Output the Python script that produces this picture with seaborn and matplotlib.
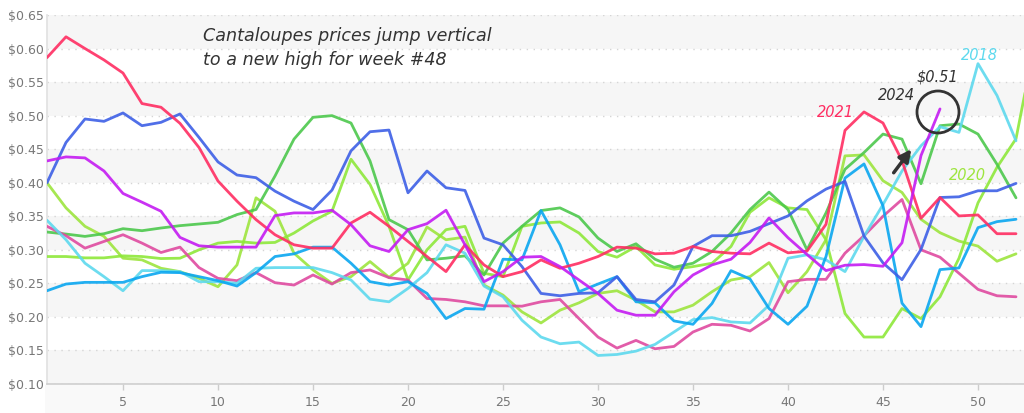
import numpy as np
import pandas as pd
import matplotlib
matplotlib.use("Agg")
import matplotlib.pyplot as plt
import seaborn as sns
from matplotlib.patches import Ellipse, Rectangle

weeks = list(range(1, 54))

y2016 = [0.40, 0.46, 0.495, 0.4915, 0.504, 0.485, 0.49, 0.5025, 0.4675, 0.431, 0.4115, 0.4075, 0.3875,
         0.3725, 0.36, 0.389, 0.4475, 0.476, 0.4785, 0.385, 0.4175, 0.3925, 0.3885, 0.3175, 0.3075, 0.275,
         0.235, 0.2315, 0.235, 0.236, 0.26, 0.226, 0.2225, 0.2475, 0.305, 0.321, 0.321, 0.3275, 0.339,
         0.3505, 0.373, 0.3905, 0.402, 0.3205, 0.2805, 0.2555, 0.3005, 0.378, 0.379, 0.388, 0.388, 0.399]
y2017 = [0.3265, 0.3235, 0.32, 0.324, 0.3315, 0.3285, 0.3325, 0.336, 0.3385, 0.341, 0.3525, 0.36, 0.41,
         0.465, 0.4975, 0.50, 0.489, 0.4325, 0.345, 0.33, 0.285, 0.2875, 0.291, 0.2625, 0.31, 0.335,
         0.3585, 0.3625, 0.349, 0.3175, 0.2975, 0.309, 0.286, 0.274, 0.28, 0.2975, 0.325, 0.36, 0.386,
         0.36, 0.30, 0.355, 0.42, 0.445, 0.4725, 0.465, 0.3985, 0.485, 0.4875, 0.4725, 0.4275, 0.3775]
y2018 = [0.344, 0.315, 0.28, 0.26, 0.239, 0.269, 0.269, 0.2675, 0.2525, 0.2525, 0.25, 0.2725, 0.2735,
         0.2735, 0.2735, 0.266, 0.255, 0.2265, 0.2225, 0.2425, 0.266, 0.3075, 0.295, 0.246, 0.23, 0.195,
         0.17, 0.16, 0.1625, 0.1425, 0.144, 0.149, 0.159, 0.1775, 0.196, 0.199, 0.1925, 0.191, 0.2175,
         0.2875, 0.2925, 0.285, 0.2675, 0.32, 0.3675, 0.4175, 0.455, 0.4835, 0.475, 0.5775, 0.53, 0.4625]
y2019 = [0.40, 0.3625, 0.335, 0.32, 0.2875, 0.285, 0.2725, 0.2675, 0.2575, 0.245, 0.2775, 0.3775, 0.3575,
         0.295, 0.27, 0.25, 0.26, 0.2825, 0.259, 0.28, 0.334, 0.315, 0.319, 0.2475, 0.2325, 0.2075,
         0.191, 0.21, 0.221, 0.235, 0.239, 0.225, 0.2075, 0.2075, 0.2175, 0.2375, 0.255, 0.26, 0.281,
         0.236, 0.2675, 0.315, 0.44, 0.4415, 0.403, 0.3855, 0.3455, 0.3255, 0.313, 0.3055, 0.283, 0.294]
y2020 = [0.29, 0.29, 0.288, 0.288, 0.291, 0.29, 0.287, 0.2875, 0.30, 0.31, 0.3125, 0.31, 0.311,
         0.325, 0.343, 0.3575, 0.435, 0.3975, 0.335, 0.255, 0.30, 0.33, 0.335, 0.265, 0.26, 0.335,
         0.34, 0.3415, 0.325, 0.2975, 0.289, 0.305, 0.2775, 0.271, 0.275, 0.28, 0.305, 0.356, 0.3775,
         0.3625, 0.36, 0.315, 0.205, 0.17, 0.17, 0.2125, 0.1975, 0.23, 0.2875, 0.37, 0.423, 0.4655, 0.61]
y2021 = [0.5865, 0.6175, 0.60, 0.583, 0.5635, 0.518, 0.5125, 0.4885, 0.4525, 0.4025, 0.3725, 0.345, 0.3225,
         0.3075, 0.3025, 0.3025, 0.34, 0.356, 0.335, 0.3125, 0.29, 0.2675, 0.3075, 0.2775, 0.26, 0.2675,
         0.285, 0.2725, 0.28, 0.29, 0.304, 0.3025, 0.294, 0.295, 0.305, 0.2975, 0.295, 0.294, 0.31,
         0.2955, 0.298, 0.338, 0.478, 0.5055, 0.489, 0.433, 0.347, 0.378, 0.3505, 0.352, 0.324, 0.324]
y2022 = [0.335, 0.321, 0.3025, 0.3125, 0.3225, 0.31, 0.296, 0.304, 0.2735, 0.2575, 0.254, 0.266, 0.251,
         0.2475, 0.2625, 0.249, 0.266, 0.27, 0.2585, 0.255, 0.2275, 0.226, 0.2225, 0.2165, 0.2165, 0.216,
         0.2225, 0.226, 0.1975, 0.17, 0.1535, 0.165, 0.1525, 0.156, 0.1775, 0.189, 0.1875, 0.179, 0.1975,
         0.2525, 0.256, 0.256, 0.295, 0.321, 0.35, 0.375, 0.30, 0.289, 0.265, 0.241, 0.2315, 0.23]
y2023 = [0.239, 0.249, 0.2515, 0.2515, 0.2515, 0.26, 0.2665, 0.266, 0.26, 0.254, 0.246, 0.266, 0.29,
         0.294, 0.304, 0.304, 0.28, 0.2525, 0.2475, 0.2525, 0.235, 0.1975, 0.2125, 0.2115, 0.286, 0.285,
         0.3585, 0.3075, 0.2375, 0.249, 0.26, 0.2225, 0.221, 0.194, 0.189, 0.22, 0.269, 0.2565, 0.2125,
         0.189, 0.216, 0.29, 0.407, 0.428, 0.3655, 0.2205, 0.1855, 0.2705, 0.273, 0.333, 0.342, 0.3455]
y2024 = [0.4325, 0.4385, 0.437, 0.4175, 0.384, 0.371, 0.3575, 0.3185, 0.306, 0.304, 0.304, 0.304, 0.351,
         0.355, 0.355, 0.359, 0.3375, 0.306, 0.2975, 0.33, 0.339, 0.359, 0.3075, 0.2525, 0.2675, 0.289,
         0.29, 0.275, 0.255, 0.235, 0.21, 0.2025, 0.2025, 0.2375, 0.2625, 0.2775, 0.286, 0.311, 0.3475,
         0.318, 0.293, 0.269, 0.277, 0.278, 0.2755, 0.3105, 0.4405, 0.51]

series = {"2016": y2016, "2017": y2017, "2018": y2018, "2019": y2019, "2020": y2020,
          "2021": y2021, "2022": y2022, "2023": y2023, "2024": y2024}
palette = {"2016": "#3d5fe6", "2017": "#4cc84c", "2018": "#5dd9ee", "2019": "#9de53e",
           "2020": "#8ee83a", "2021": "#ff2d62", "2022": "#df4aa0", "2023": "#0aa6f0",
           "2024": "#c41bf2"}
order = ["2019", "2020", "2017", "2022", "2018", "2023", "2016", "2021", "2024"]

y_ticks = [0.10, 0.15, 0.20, 0.25, 0.30, 0.35, 0.40, 0.45, 0.50, 0.55, 0.60, 0.65]
x_ticks = [5, 10, 15, 20, 25, 30, 35, 40, 45, 50]

rows = []
for yr, vals in series.items():
    for w, v in zip(weeks, vals):
        rows.append({"week": w, "price": v, "year": yr})
df = pd.DataFrame(rows)

sns.set_theme(style="white")
plt.rcParams['font.family'] = ['DejaVu Sans']

fig = plt.figure(figsize=(10.24, 4.13), dpi=100)
bg = Rectangle((45 / 1024, 0), 1, 28 / 413, transform=fig.transFigure,
               facecolor="#f9f9f9", lw=0)
bg.set_zorder(-10)
fig.add_artist(bg)
ax = fig.add_axes([47 / 1024, 29 / 413, 1 - 47 / 1024, 369 / 413])
ax.set_zorder(1)
ax.patch.set_alpha(0)

for lo in [0.10, 0.20, 0.30, 0.40, 0.50, 0.60]:
    ax.axhspan(lo, lo + 0.05, color="#f6f6f6", lw=0, zorder=0)

sns.lineplot(data=df, x="week", y="price", hue="year", hue_order=order, palette=palette,
             linewidth=2.0, alpha=0.9, legend=False, ax=ax, zorder=3)

ax.set_xlim(1, 1 + (1024 - 47) / 19)
ax.set_ylim(0.10, 0.65)
ax.set_yticks(y_ticks)
ax.set_yticklabels([f"${v:.2f}" for v in y_ticks])
ax.set_xticks(x_ticks)
ax.set_xlabel("")
ax.set_ylabel("")
ax.yaxis.grid(True, linestyle=(0, (1, 4)), color="#d5d5d5", lw=1)
ax.xaxis.grid(False)
ax.set_axisbelow(True)
ax.tick_params(axis="y", colors="#777777", labelsize=9, length=0, pad=2)
ax.tick_params(axis="x", colors="#cccccc", labelcolor="#777777", labelsize=9,
               length=4, width=1, pad=5, bottom=True)
for s in ["top", "right"]:
    ax.spines[s].set_visible(False)
ax.spines["left"].set_color("#e2e2e2")
ax.spines["bottom"].set_color("#d0d0d0")

hand = dict(family="DejaVu Sans", style="oblique")
ax.text(1 + (203 - 47) / 19, 0.65 - (27 - 15) / 671,
        "Cantaloupes prices jump vertical\nto a new high for week #48",
        fontsize=12.6, color="#333333", va="top", ha="left", linespacing=1.4, **hand)

def px(x, y):
    return 1 + (x - 47) / 19, 0.65 - (y - 15) / 671

ax.text(*px(835, 113), "2021", color="#ff2d62", fontsize=10.5, ha="center", va="center", **hand)
ax.text(*px(896, 96), "2024", color="#333333", fontsize=10.5, ha="center", va="center", **hand)
ax.text(*px(937, 77), "$0.51", color="#333333", fontsize=10.5, ha="center", va="center", **hand)
ax.text(*px(979, 56), "2018", color="#5dd9ee", fontsize=10.5, ha="center", va="center", **hand)
ax.text(*px(967, 176), "2020", color="#9de53e", fontsize=10.5, ha="center", va="center", **hand)

cx, cy = px(938, 112)
ax.add_patch(Ellipse((cx, cy), width=42 / 19, height=42 / 671, fill=False,
                     ec="#333333", lw=2, zorder=5))
ax.annotate("", xy=px(913, 147), xytext=px(892, 175),
            arrowprops=dict(arrowstyle="-|>", lw=2.5, color="#333333", mutation_scale=18),
            zorder=5)

fig.savefig("out.png", dpi=100)
